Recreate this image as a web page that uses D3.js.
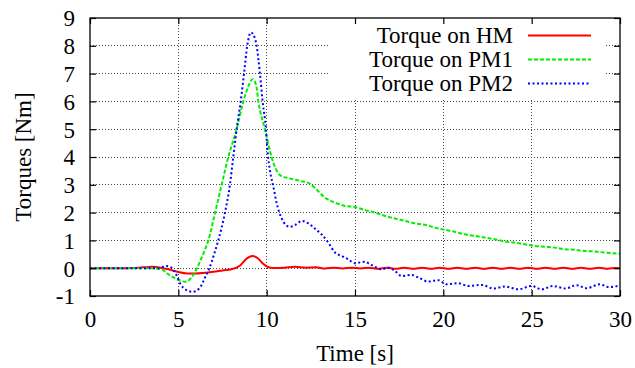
<!DOCTYPE html>
<html><head><meta charset="utf-8">
<script src="https://cdn.jsdelivr.net/npm/d3@7"></script>
<style>
#c text{font-family:'Liberation Serif','Times New Roman',Times,serif !important;}
</style>
</head>
<body style="margin:0"><svg id="c" width="635" height="368" font-family="Liberation Serif" style="background:#fff"></svg>
<script>
// ---- data (time [s], torque [Nm]) ----
const seriesNames = ["Torque on HM", "Torque on PM1", "Torque on PM2"];
const xTicks = [0, 5, 10, 15, 20, 25, 30];
const yTicks = [-1, 0, 1, 2, 3, 4, 5, 6, 7, 8, 9];

const torqueHM = [[0,0],[2,0],[3,0.03],[3.5,0.05],[4,0.02],[4.5,-0.05],[5,-0.14],[5.5,-0.19],[6,-0.19],[6.5,-0.16],[7,-0.13],[7.5,-0.08],[8,-0.04],[8.5,0.1],[8.9,0.36],[9.2,0.44],[9.5,0.36],[9.8,0.16],[10.2,0.02],[10.6,0.01],[11,0.02],[11.6,0.05],[12.2,0.02],[12.8,0.03],[13.3,-0.01],[13.8,0.02],[14.3,-0.01],[14.8,0.02],[15.3,-0.01],[15.8,0.02],[16.3,-0.02],[16.8,0.02],[17.3,-0.02],[17.8,0.02],[18.3,-0.02],[18.8,0.02],[19.3,-0.02],[19.8,0.02],[20.3,-0.02],[20.8,0.02],[21.3,-0.02],[21.8,0.02],[22.3,-0.02],[22.8,0.02],[23.3,-0.02],[23.8,0.02],[24.3,-0.02],[24.8,0.02],[25.3,-0.02],[25.8,0.02],[26.3,-0.02],[26.8,0.02],[27.3,-0.02],[27.8,0.02],[28.3,-0.02],[28.8,0.02],[29.3,-0.02],[29.8,0.01],[30,0]];

const torquePM1 = [[0,0],[3.5,0],[4,-0.03],[4.5,-0.25],[5,-0.42],[5.4,-0.49],[5.75,-0.33],[6.05,0],[6.4,0.5],[6.7,1.0],[7.08,2.0],[7.45,3.0],[7.83,4.0],[8.3,5.0],[8.68,6.0],[9.0,6.6],[9.2,6.8],[9.4,6.6],[9.53,6.0],[9.9,5.0],[10.28,4.0],[10.5,3.6],[10.75,3.35],[11.3,3.23],[11.9,3.14],[12.45,3.04],[12.9,2.78],[13.3,2.54],[13.87,2.36],[14.43,2.24],[15,2.2],[15.57,2.09],[16.13,2.0],[16.7,1.88],[17.26,1.79],[17.83,1.70],[18.4,1.61],[18.96,1.56],[19.53,1.46],[20.1,1.38],[20.66,1.31],[21.2,1.22],[21.8,1.16],[22.36,1.10],[22.9,1.04],[23.5,0.96],[24.06,0.92],[24.6,0.86],[25.2,0.80],[25.75,0.77],[26.3,0.74],[26.9,0.68],[27.45,0.66],[28,0.62],[28.6,0.60],[29.15,0.56],[30,0.52]];

const torquePM2 = [[0,0],[3.9,0],[4.3,0.08],[4.6,0.02],[4.85,-0.19],[5.1,-0.55],[5.47,-0.79],[5.8,-0.85],[6.2,-0.72],[6.5,-0.35],[6.76,0],[7.0,0.45],[7.26,1.0],[7.64,2.0],[7.92,3.0],[8.11,4.0],[8.3,5.0],[8.53,6.0],[8.72,7.0],[8.9,8.0],[9.1,8.48],[9.25,8.4],[9.43,8.0],[9.62,7.0],[9.77,6.0],[9.96,5.0],[10.05,4.2],[10.19,3.5],[10.38,2.93],[10.57,2.33],[10.85,1.79],[11.1,1.55],[11.32,1.49],[11.6,1.55],[11.98,1.70],[12.36,1.61],[12.83,1.37],[13.1,1.22],[13.49,0.92],[13.87,0.56],[14.25,0.44],[14.62,0.32],[15.0,0.18],[15.3,0.21],[15.57,0.23],[15.85,0.14],[16.13,0.05],[16.5,-0.04],[16.9,0.02],[17.26,-0.1],[17.64,-0.28],[18.2,-0.24],[18.6,-0.34],[19.15,-0.48],[19.7,-0.43],[20.19,-0.58],[20.85,-0.54],[21.4,-0.64],[22.17,-0.60],[22.83,-0.73],[23.5,-0.66],[24.25,-0.76],[25.0,-0.64],[25.57,-0.76],[26.2,-0.64],[26.9,-0.73],[27.55,-0.61],[28.1,-0.72],[28.87,-0.58],[29.34,-0.68],[30,-0.62]];

// ---- layout ----
const svg = d3.select("#c");
const L = 90, R = 620, T = 18, B = 296;
const x = d3.scaleLinear().domain([0, 30]).range([L, R]);
const y = d3.scaleLinear().domain([-1, 9]).range([B, T]);
const FS = "23px";
const FONT = "'Liberation Serif', 'Times New Roman', serif";
const fmt = d => String(d); // hyphen-minus as in reference
const setFont = sel => sel.style("font-family", FONT, "important").style("font-size", FS, "important");

// grid
const grid = svg.append("g").attr("stroke", "#444").attr("stroke-width", 1).attr("stroke-dasharray", "1,2").attr("fill", "none");
xTicks.filter(t => t > 0 && t < 30).forEach(t => {
  grid.append("line").attr("x1", x(t)).attr("x2", x(t)).attr("y1", B).attr("y2", T).attr("shape-rendering","crispEdges");
});
yTicks.filter(t => t > -1 && t < 9).forEach(t => {
  grid.append("line").attr("x1", L).attr("x2", R).attr("y1", y(t)).attr("y2", y(t)).attr("shape-rendering","crispEdges");
});

// legend background
svg.append("rect").attr("x", 330).attr("y", T + 1).attr("width", 275).attr("height", 79).attr("fill", "#fff");

// curves
svg.append("clipPath").attr("id", "clip").append("rect").attr("x", L).attr("y", T).attr("width", R - L).attr("height", B - T);
const line = d3.line().x(d => x(d[0])).y(d => y(d[1])).curve(d3.curveMonotoneX);
const styles = [
  {data: torqueHM, color: "#ff0000", dash: null},
  {data: torquePM1, color: "#00ee00", dash: "4,2"},
  {data: torquePM2, color: "#0000ff", dash: "2,2.5"}
];
const cg = svg.append("g").attr("clip-path", "url(#clip)");
styles.forEach(s => {
  const p = cg.append("path").attr("d", line(s.data)).attr("fill", "none").attr("stroke", s.color).attr("stroke-width", 2);
  if (s.dash) p.attr("stroke-dasharray", s.dash);
});

// border
svg.append("rect").attr("x", L).attr("y", T).attr("width", R - L).attr("height", B - T)
  .attr("fill", "none").attr("stroke", "#000").attr("stroke-width", 1.3);

// axes (inward ticks, mirrored)
const tk = 6;
const axB = svg.append("g").attr("transform", `translate(0,${B})`)
  .call(d3.axisBottom(x).tickValues(xTicks).tickSize(-tk).tickPadding(15).tickFormat(fmt));
const axT = svg.append("g").attr("transform", `translate(0,${T})`)
  .call(d3.axisTop(x).tickValues(xTicks).tickSize(-tk).tickFormat(""));
const axL = svg.append("g").attr("transform", `translate(${L},0)`)
  .call(d3.axisLeft(y).tickValues(yTicks).tickSize(-tk).tickPadding(15).tickFormat(fmt));
const axR = svg.append("g").attr("transform", `translate(${R},0)`)
  .call(d3.axisRight(y).tickValues(yTicks).tickSize(-tk).tickFormat(""));
[axB, axT, axL, axR].forEach(a => {
  a.select(".domain").remove();
  a.attr("font-family", "Liberation Serif").attr("font-size", 23);
  a.selectAll("line").attr("stroke", "#000").attr("stroke-width", 1.2);
  a.selectAll("text").call(setFont).attr("fill", "#000");
});
axB.selectAll("text").attr("dy", "0.71em");
axL.selectAll("text").attr("dy", "0.34em");

// axis labels
svg.append("text").attr("x", (L + R) / 2).attr("y", 361).attr("text-anchor", "middle")
  .call(setFont).text("Time [s]");
svg.append("text").attr("transform", `translate(31,${(T + B) / 2}) rotate(-90)`).attr("text-anchor", "middle")
  .call(setFont).text("Torques [Nm]");

// legend
const lg = svg.append("g");
styles.forEach((s, i) => {
  const yy = 35.5 + i * 24;
  lg.append("text").attr("x", 513).attr("y", yy + 7.5).attr("text-anchor", "end")
    .call(setFont).text(seriesNames[i]);
  const l = lg.append("line").attr("x1", 528).attr("x2", 591).attr("y1", yy).attr("y2", yy)
    .attr("stroke", s.color).attr("stroke-width", 2);
  if (s.dash) l.attr("stroke-dasharray", s.dash);
});
</script></body></html>
